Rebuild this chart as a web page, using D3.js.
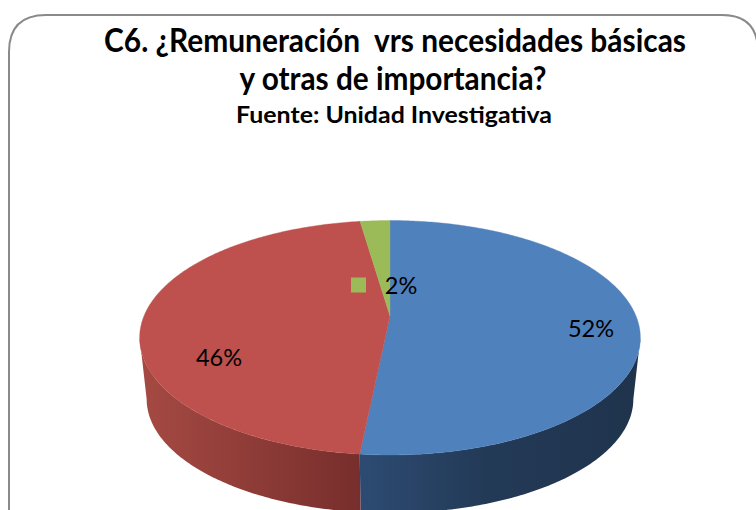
<!DOCTYPE html>
<html lang="es">
<head>
<meta charset="utf-8">
<script src="https://cdn.jsdelivr.net/npm/d3@7"></script>
<style>
html,body{margin:0;padding:0;background:#fff;overflow:hidden}
svg{display:block}
text{font-family:Lato,"Noto Sans",sans-serif;fill:#000}
</style>
</head>
<body>
<svg id="c" width="756" height="510"></svg>
<script>
// Data
const categories = ["Sí", "No", "Otros"];
const values = [51.6, 46.1, 2.3];
const titleLines = ["C6. ¿Remuneración  vrs necesidades básicas", "y otras de importancia?"];
const subtitle = "Fuente: Unidad Investigativa";

// Styles
const topColors = ["#4F81BD", "#BE504D", "#9BBB59"];
const sideStops = [
  [["#2D4B72", 0], ["#233A57", 0.45], ["#1F334C", 1]],
  [["#A64A43", 0], ["#772E2C", 1]],
  [["#6E8A40", 0], ["#6E8A40", 1]]
];
const labelPos = [[591, 337], [219, 366], [401, 294]];
const keyPos = [[545, 329], [170, 355], [358.5, 285]];

const svg = d3.select("#c");

// Perspective projection of the pie disk
const k = 0.1855;
const xScale = d3.scaleLinear().domain([-1, 1]).range([390 - 246, 390 + 246]);
const yScale = d3.scaleLinear().domain([-1, 1]).range([316 - 113.2, 316 + 113.2]);
const depth = 62, lowerShrink = 0.972;
function project(a, r, lower) {
  const u = r * Math.sin(a), v = -r * Math.cos(a), w = 1 - k * v;
  const s = lower ? lowerShrink : 1;
  const X = 390 + (xScale(u / w) - 390) * s;
  const Y = 316 + (yScale(v / w) - 316) * s + (lower ? depth : 0);
  return [X, Y];
}

const pie = d3.pie().sort(null).value(d => d)(values);
const line = d3.line();
function rim(a0, a1, lower) {
  const n = Math.max(4, Math.ceil((a1 - a0) * 80));
  return d3.range(n + 1).map(i => project(a0 + (a1 - a0) * i / n, 1, lower));
}

// Gradients
const defs = svg.append("defs");
sideStops.forEach((stops, i) => {
  const g = defs.append("linearGradient").attr("id", "side" + i)
    .attr("gradientUnits", "objectBoundingBox")
    .attr("x1", 0).attr("x2", 1).attr("y1", 0).attr("y2", 0);
  stops.forEach(s => g.append("stop").attr("offset", s[1]).attr("stop-color", s[0]));
});

// Frame
svg.append("path")
  .attr("d", "M 9 560 L 9 52 Q 9 15 46 15 L 722 15 Q 758 15 758 52 L 758 560")
  .attr("fill", "none").attr("stroke", "#8a8a8a").attr("stroke-width", 2);

// Side wall: only the arc between the two widest points of the disk is visible
const widest = Math.asin(k);
const sideLayer = svg.append("g");
pie.forEach((d, i) => {
  const a0 = Math.max(d.startAngle, Math.PI / 2 + widest);
  const a1 = Math.min(d.endAngle, Math.PI * 1.5 - widest);
  if (a1 <= a0) return;
  const pts = rim(a0, a1, false).concat(rim(a0, a1, true).reverse());
  sideLayer.append("path").attr("d", line(pts) + "Z").attr("fill", `url(#side${i})`);
});

// Top faces
const topLayer = svg.append("g");
pie.forEach((d, i) => {
  const pts = [project(0, 0, false)].concat(rim(d.startAngle, d.endAngle, false));
  topLayer.append("path").attr("d", line(pts) + "Z").attr("fill", topColors[i])
    .attr("stroke", topColors[i]).attr("stroke-width", 0.4);
});

// Legend keys inside the labels
categories.forEach((c, i) => {
  svg.append("rect").attr("x", keyPos[i][0] - 7.5).attr("y", keyPos[i][1] - 7.5)
    .attr("width", 15).attr("height", 15).attr("fill", topColors[i]);
});

// Labels
const fmt = d3.format(".0f");
values.forEach((v, i) => {
  svg.append("text").attr("x", labelPos[i][0]).attr("y", labelPos[i][1])
    .attr("text-anchor", "middle").attr("font-size", 23.5).text(fmt(v) + "%");
});

// Titles
svg.append("text").attr("x", 395).attr("y", 52).attr("text-anchor", "middle")
  .attr("font-size", 32).attr("font-weight", 700)
  .attr("textLength", 582).attr("lengthAdjust", "spacingAndGlyphs")
  .style("white-space", "pre").text(titleLines[0]);
svg.append("text").attr("x", 393).attr("y", 90).attr("text-anchor", "middle")
  .attr("font-size", 32).attr("font-weight", 700)
  .attr("textLength", 307).attr("lengthAdjust", "spacingAndGlyphs").text(titleLines[1]);
svg.append("text").attr("x", 394).attr("y", 123).attr("text-anchor", "middle")
  .attr("font-size", 23).attr("font-weight", 700)
  .attr("textLength", 316).attr("lengthAdjust", "spacingAndGlyphs").text(subtitle);
</script>
</body>
</html>
